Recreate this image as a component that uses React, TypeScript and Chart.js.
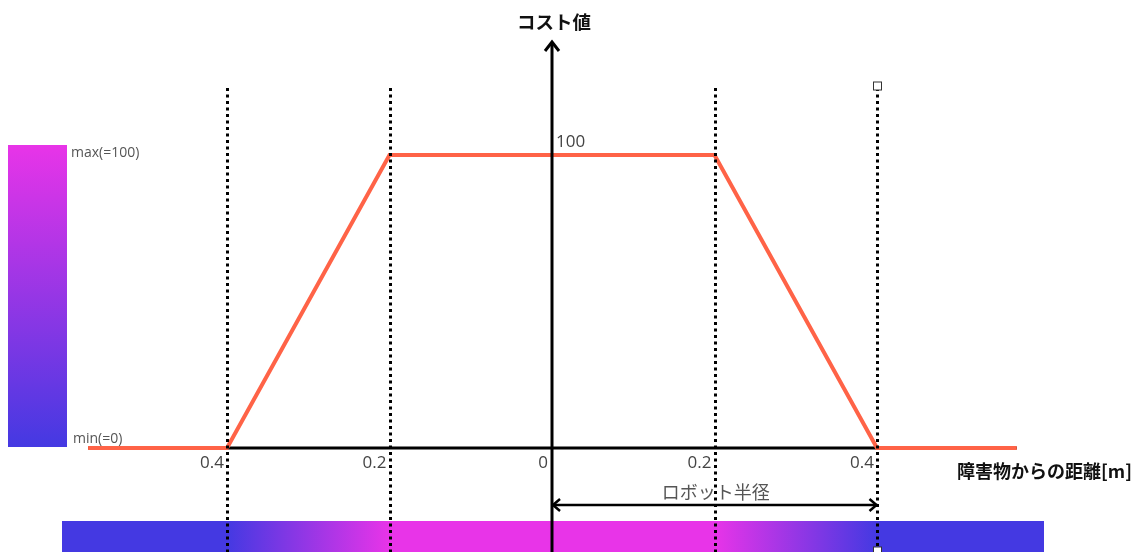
import React, { useEffect, useRef } from "react";
import { Chart, registerables } from "chart.js";

Chart.register(...registerables);

// distance from obstacle [m] (signed: left side negative)
const distances = [-0.571, -0.4, -0.2, 0.2, 0.4, 0.572];
// cost values
const costValues = [0, 0, 100, 100, 0, 0];
// x tick positions and labels
const tickValues = [-0.4, -0.2, 0, 0.2, 0.4];
const tickLabels = ["0.4", "0.2", "0", "0.2", "0.4"];
const guideValues = [-0.4, -0.2, 0.2, 0.4];
const robotRadius = 0.4;

const MAGENTA = "#E834E8";
const BLUE = "#4439E2";
const JP = '"Noto Sans CJK JP", "Noto Sans", sans-serif';
const LAT = '"Open Sans", "Noto Sans", sans-serif';

const decorPlugin = {
  id: "decor",
  beforeDatasetsDraw(chart: any) {
    const { ctx } = chart;
    const xs = chart.scales.x;
    const ys = chart.scales.y;
    const y0 = ys.getPixelForValue(0);
    const x0 = xs.getPixelForValue(0);
    ctx.save();
    // bottom gradient bar
    const bx1 = 62, bx2 = 1044, by1 = 521, by2 = 552;
    const g = ctx.createLinearGradient(bx1, 0, bx2, 0);
    const f = (v: number) => (xs.getPixelForValue(v) - bx1) / (bx2 - bx1);
    g.addColorStop(0, BLUE);
    g.addColorStop(f(-0.4), BLUE);
    g.addColorStop(f(-0.2), MAGENTA);
    g.addColorStop(f(0.2), MAGENTA);
    g.addColorStop(f(0.4), BLUE);
    g.addColorStop(1, BLUE);
    ctx.fillStyle = g;
    ctx.fillRect(bx1, by1, bx2 - bx1, by2 - by1);

    // left legend bar
    const lg = ctx.createLinearGradient(0, 145, 0, 447);
    lg.addColorStop(0, MAGENTA);
    lg.addColorStop(1, BLUE);
    ctx.fillStyle = lg;
    ctx.fillRect(8, 145, 59, 302);
    ctx.fillStyle = "#555";
    ctx.font = `14px ${LAT}`;
    ctx.textAlign = "left";
    ctx.textBaseline = "middle";
    ctx.fillText("max(=100)", 71, 153);
    ctx.fillText("min(=0)", 73, 439);

    // x axis
    ctx.strokeStyle = "#000";
    ctx.lineWidth = 3;
    ctx.beginPath();
    ctx.moveTo(xs.getPixelForValue(distances[0]), y0);
    ctx.lineTo(xs.getPixelForValue(distances[distances.length - 1]), y0);
    ctx.stroke();

    // tick labels
    ctx.fillStyle = "#444";
    ctx.font = `17px ${LAT}`;
    ctx.textAlign = "right";
    ctx.textBaseline = "middle";
    tickValues.forEach((v, i) => {
      const px = xs.getPixelForValue(v);
      ctx.fillText(tickLabels[i], v === 0 ? px - 4 : px - 3, y0 + 15);
    });

    // 100 label
    ctx.textAlign = "left";
    ctx.font = `17px ${LAT}`;
    ctx.fillText("100", x0 + 4, ys.getPixelForValue(100) - 13);

    // x axis title
    ctx.fillStyle = "#111";
    ctx.font = `bold 18px ${JP}`;
    ctx.textAlign = "left";
    ctx.fillText("障害物からの距離[m]", 957, y0 + 23);
    ctx.restore();
  },
  afterDatasetsDraw(chart: any) {
    const { ctx } = chart;
    const xs = chart.scales.x;
    const x0 = xs.getPixelForValue(0);
    ctx.save();
    // dotted guide lines
    ctx.strokeStyle = "#000";
    ctx.lineWidth = 3;
    ctx.setLineDash([3, 3.5]);
    guideValues.forEach((v) => {
      const px = Math.round(xs.getPixelForValue(v)) + 0.5;
      ctx.beginPath();
      ctx.moveTo(px, 88);
      ctx.lineTo(px, 552);
      ctx.stroke();
    });
    ctx.setLineDash([]);

    // handles on right robot radius line
    const rx = Math.round(xs.getPixelForValue(robotRadius)) + 0.5;
    ctx.fillStyle = "#fff";
    ctx.strokeStyle = "#333";
    ctx.lineWidth = 1;
    ctx.fillRect(rx - 4, 82, 8, 8);
    ctx.strokeRect(rx - 4, 82, 8, 8);
    ctx.fillRect(rx - 4, 547, 8, 8);
    ctx.strokeRect(rx - 4, 547, 8, 8);

    // y axis with arrow
    ctx.strokeStyle = "#000";
    ctx.lineWidth = 3;
    ctx.beginPath();
    ctx.moveTo(x0, 42);
    ctx.lineTo(x0, 552);
    ctx.stroke();
    ctx.beginPath();
    ctx.moveTo(x0 - 7, 51);
    ctx.lineTo(x0, 42);
    ctx.lineTo(x0 + 7, 51);
    ctx.stroke();

    // y axis title
    ctx.fillStyle = "#111";
    ctx.font = `bold 18.5px ${JP}`;
    ctx.textAlign = "center";
    ctx.textBaseline = "middle";
    ctx.fillText("コスト値", x0 + 2, 22);

    // robot radius arrow
    const ay = 505;
    ctx.lineWidth = 2.5;
    ctx.beginPath();
    ctx.moveTo(x0, ay);
    ctx.lineTo(rx, ay);
    ctx.stroke();
    ctx.beginPath();
    ctx.moveTo(x0 + 8, ay - 6);
    ctx.lineTo(x0 + 1, ay);
    ctx.lineTo(x0 + 8, ay + 6);
    ctx.moveTo(rx - 8, ay - 6);
    ctx.lineTo(rx - 1, ay);
    ctx.lineTo(rx - 8, ay + 6);
    ctx.stroke();
    ctx.fillStyle = "#555";
    ctx.font = `18px ${JP}`;
    ctx.textAlign = "center";
    ctx.fillText("ロボット半径", (x0 + rx) / 2 + 1, ay - 13);
    ctx.restore();
  },
};

export default function App() {
  const ref = useRef<HTMLCanvasElement>(null);
  useEffect(() => {
    document.body.style.margin = "0";
    const chart = new Chart(ref.current!, {
      type: "line",
      data: {
        datasets: [
          {
            data: distances.map((d, i) => ({ x: d, y: costValues[i] })),
            borderColor: "#FF6347",
            borderWidth: 4,
            pointRadius: 0,
            tension: 0,
            fill: false,
          },
        ],
      },
      options: {
        animation: false,
        responsive: false,
        layout: { padding: 0 },
        plugins: { legend: { display: false }, tooltip: { enabled: false } },
        scales: {
          x: { type: "linear", min: -0.6794, max: 0.72, display: false },
          y: { min: -35.5, max: 152.9, display: false },
        },
      },
      plugins: [decorPlugin],
    });
    return () => chart.destroy();
  }, []);
  return (
    <div style={{ position: "absolute", left: 0, top: 0 }}>
      <canvas ref={ref} width={1137} height={552} style={{ display: "block" }} />
    </div>
  );
}
